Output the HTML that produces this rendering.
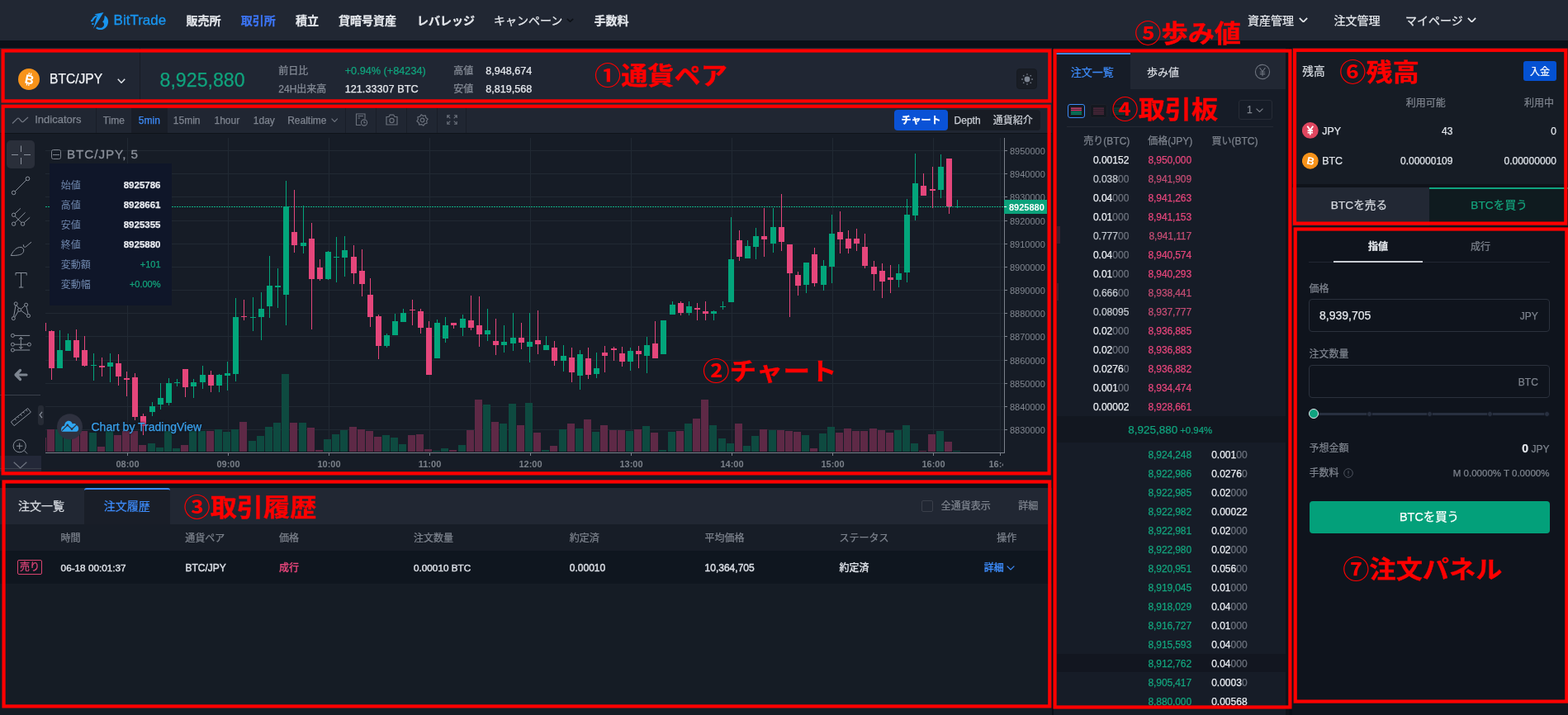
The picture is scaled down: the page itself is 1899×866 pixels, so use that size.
<!DOCTYPE html>
<html lang="ja"><head><meta charset="utf-8"><title>BitTrade 取引所</title>
<style>
*{margin:0;padding:0;box-sizing:border-box}
html,body{width:1899px;height:866px;overflow:hidden;background:#0a1018;font-family:"Liberation Sans","Noto Sans CJK JP",sans-serif;}
.a{position:absolute}
.t{position:absolute;white-space:nowrap;-webkit-text-stroke:0.25px currentColor}
.rb{position:absolute;border:4px solid #ff0000;z-index:50}
.lab{position:absolute;white-space:nowrap;color:#ff0000;font-weight:700;-webkit-text-stroke:0.4px #ff0000;font-size:31px;line-height:36px;z-index:60;font-family:"Liberation Sans","Noto Sans CJK JP",sans-serif;letter-spacing:0}
</style></head>
<body>
<div class="a" style="left:0px;top:0px;width:1899px;height:49px;background:#212733;"></div><svg class="a" style="left:105px;top:8px" width="30" height="32" viewBox="105 8 30 32">
<polygon points="125.5,15 114.5,17.3 117.7,19 113.1,34.8" fill="#1894ee"/>
<path d="M116.9 19.4 Q112.8 21.3 111.7 25.2" fill="none" stroke="#1894ee" stroke-width="2"/>
<rect x="110" y="24.3" width="2.4" height="1.9" fill="#1894ee"/>
<circle cx="112.4" cy="28.9" r="1.2" fill="#1894ee"/>
<path d="M126.8 18.7 C129.7 20.2 131.3 23.3 131.1 26.6 C130.9 30.6 128.6 34 125 35.4 C122 36.6 118.6 36.2 116 34.2 L117.4 32.4 C119.2 33.6 121.4 34 123.4 33.4 C125.4 32.6 126.4 30.8 126 28.8 C125.7 27.6 124.8 26.9 124 26.6 C125.4 25.4 126.2 23.8 126.4 21.8 C126.5 20.6 126.6 19.6 126.8 18.7 Z" fill="#1894ee"/>
</svg><div class="t " style="top:15.2px;line-height:20px;font-size:17px;color:#1894ee;left:137.6px;-webkit-text-stroke:0.35px #1894ee">BitTrade</div><div class="t " style="top:15.0px;line-height:20px;font-size:14px;color:#e4e7ec;font-weight:700;left:225.5px;">販売所</div><div class="t " style="top:15.0px;line-height:20px;font-size:14px;color:#3d76f7;font-weight:700;left:291.8px;">取引所</div><div class="t " style="top:15.0px;line-height:20px;font-size:14px;color:#e4e7ec;font-weight:700;left:358.0px;">積立</div><div class="t " style="top:15.0px;line-height:20px;font-size:14px;color:#e4e7ec;font-weight:700;left:410.0px;">貸暗号資産</div><div class="t " style="top:15.0px;line-height:20px;font-size:14px;color:#e4e7ec;font-weight:700;left:505.0px;">レバレッジ</div><div class="t " style="top:15.0px;line-height:20px;font-size:14px;color:#e4e7ec;left:598.0px;">キャンペーン</div><div class="t " style="top:15.0px;line-height:20px;font-size:14px;color:#e4e7ec;font-weight:700;left:719.5px;">手数料</div><div class="t " style="top:15.0px;line-height:20px;font-size:14px;color:#e4e7ec;left:1511.0px;">資産管理</div><div class="t " style="top:15.0px;line-height:20px;font-size:14px;color:#e4e7ec;left:1615.5px;">注文管理</div><div class="t " style="top:15.0px;line-height:20px;font-size:14px;color:#e4e7ec;left:1702.0px;">マイページ</div><svg class="a" style="left:685.5px;top:21.5px" width="9" height="5" viewBox="0 0 9 5"><polyline points="0.8,0.8 4.5,4.2 8.2,0.8" fill="none" stroke="#0d1117" stroke-width="1.6"/></svg><svg class="a" style="left:1572.5px;top:20.5px" width="11" height="6.5" viewBox="0 0 11 6.5"><polyline points="0.85,0.85 5.5,5.65 10.15,0.85" fill="none" stroke="#e4e7ec" stroke-width="1.7"/></svg><svg class="a" style="left:1776.5px;top:20.5px" width="11" height="6.5" viewBox="0 0 11 6.5"><polyline points="0.85,0.85 5.5,5.65 10.15,0.85" fill="none" stroke="#e4e7ec" stroke-width="1.7"/></svg><div class="a" style="left:0px;top:58px;width:1274px;height:67px;background:#202633;"></div><div class="a" style="left:169px;top:58px;width:1px;height:67px;background:#181c24;"></div><svg class="a" style="left:22px;top:83px" width="26" height="26" viewBox="0 0 26 26"><circle cx="13" cy="13" r="13" fill="#f7931a"/>
<text x="13.6" y="18.3" font-size="15" font-weight="700" fill="#fff" text-anchor="middle" font-family="Liberation Sans,sans-serif" transform="rotate(12 13 13)">B</text>
<rect x="11.2" y="5.2" width="1.3" height="2.6" fill="#fff" transform="rotate(12 13 13)"/><rect x="13.6" y="5.2" width="1.3" height="2.6" fill="#fff" transform="rotate(12 13 13)"/>
<rect x="11.2" y="18.2" width="1.3" height="2.6" fill="#fff" transform="rotate(12 13 13)"/><rect x="13.6" y="18.2" width="1.3" height="2.6" fill="#fff" transform="rotate(12 13 13)"/>
</svg><div class="t " style="top:86.3px;line-height:20px;font-size:15.6px;color:#f2f4f7;left:60.0px;">BTC/JPY</div><svg class="a" style="left:141.5px;top:94.5px" width="10" height="6" viewBox="0 0 10 6"><polyline points="0.75,0.75 5.0,5.25 9.25,0.75" fill="none" stroke="#dfe3e9" stroke-width="1.5"/></svg><div class="t " style="top:82.8px;line-height:28px;font-size:23.2px;color:#10a37d;left:193.5px;">8,925,880</div><div class="t " style="top:77.5px;line-height:16px;font-size:12px;color:#858b96;left:337.3px;">前日比</div><div class="t " style="top:99.6px;line-height:16px;font-size:12px;color:#858b96;left:337.3px;">24H出来高</div><div class="t " style="top:77.5px;line-height:16px;font-size:12.7px;color:#10a37d;left:417.7px;">+0.94% (+84234)</div><div class="t " style="top:99.6px;line-height:16px;font-size:12.7px;color:#e6e9ee;left:417.7px;">121.33307 BTC</div><div class="t " style="top:77.5px;line-height:16px;font-size:12px;color:#858b96;left:549.3px;">高値</div><div class="t " style="top:99.6px;line-height:16px;font-size:12px;color:#858b96;left:549.3px;">安値</div><div class="t " style="top:77.5px;line-height:16px;font-size:12.6px;color:#e6e9ee;left:588.2px;">8,948,674</div><div class="t " style="top:99.6px;line-height:16px;font-size:12.6px;color:#e6e9ee;left:588.2px;">8,819,568</div><div class="a" style="left:1231px;top:83px;width:25px;height:25px;border-radius:4px;background:#191d25;border:1px solid #161a21"></div><svg class="a" style="left:1236px;top:88px" width="16" height="16" viewBox="0 0 16 16"><circle cx="8" cy="8" r="3.4" fill="#7d8592"/><line x1="13.20" y1="8.00" x2="14.80" y2="8.00" stroke="#7d8592" stroke-width="1.3"/><line x1="11.68" y1="11.68" x2="12.81" y2="12.81" stroke="#7d8592" stroke-width="1.3"/><line x1="8.00" y1="13.20" x2="8.00" y2="14.80" stroke="#7d8592" stroke-width="1.3"/><line x1="4.32" y1="11.68" x2="3.19" y2="12.81" stroke="#7d8592" stroke-width="1.3"/><line x1="2.80" y1="8.00" x2="1.20" y2="8.00" stroke="#7d8592" stroke-width="1.3"/><line x1="4.32" y1="4.32" x2="3.19" y2="3.19" stroke="#7d8592" stroke-width="1.3"/><line x1="8.00" y1="2.80" x2="8.00" y2="1.20" stroke="#7d8592" stroke-width="1.3"/><line x1="11.68" y1="4.32" x2="12.81" y2="3.19" stroke="#7d8592" stroke-width="1.3"/></svg><div class="a" style="left:0px;top:125px;width:1274px;height:36px;background:#202632;"></div><div class="a" style="left:0px;top:160.5px;width:1274px;height:1.5px;background:#0e131a;"></div><div class="a" style="left:0px;top:162px;width:1274px;height:420px;background:#161c26;"></div><div class="a" style="left:116px;top:131px;width:1px;height:30px;background:#191e28;"></div><div class="a" style="left:159px;top:131px;width:1px;height:30px;background:#191e28;"></div><div class="a" style="left:202px;top:131px;width:1px;height:30px;background:#191e28;"></div><div class="a" style="left:418px;top:131px;width:1px;height:30px;background:#191e28;"></div><div class="a" style="left:455px;top:131px;width:1px;height:30px;background:#191e28;"></div><div class="a" style="left:492px;top:131px;width:1px;height:30px;background:#191e28;"></div><div class="a" style="left:529px;top:131px;width:1px;height:30px;background:#191e28;"></div><div class="a" style="left:564px;top:131px;width:1px;height:30px;background:#191e28;"></div><div class="a" style="left:159px;top:131px;width:43px;height:30px;background:#191e28;"></div><svg class="a" style="left:14px;top:141px" width="21" height="10" viewBox="0 0 21 10"><path d="M1 8.5 L7 2.6 Q8 1.7 9 2.6 L12.3 6.2 Q13.3 7.1 14.3 6.2 L20 1" fill="none" stroke="#6f7581" stroke-width="1.3"/></svg><div class="t " style="top:137.0px;line-height:16px;font-size:13px;color:#7e848f;left:42.2px;">Indicators</div><div class="t " style="top:138.0px;line-height:16px;font-size:12px;color:#7e848f;left:124.8px;">Time</div><div class="t " style="top:138.0px;line-height:16px;font-size:12px;color:#3d8af7;left:167.8px;">5min</div><div class="t " style="top:138.0px;line-height:16px;font-size:12px;color:#7e848f;left:209.8px;">15min</div><div class="t " style="top:138.0px;line-height:16px;font-size:12px;color:#7e848f;left:259.5px;">1hour</div><div class="t " style="top:138.0px;line-height:16px;font-size:12px;color:#7e848f;left:306.8px;">1day</div><div class="t " style="top:138.0px;line-height:16px;font-size:12px;color:#7e848f;left:348.2px;">Realtime</div><svg class="a" style="left:400.5px;top:143px" width="8.5" height="5" viewBox="0 0 8.5 5"><polyline points="0.6,0.6 4.25,4.4 7.9,0.6" fill="none" stroke="#6f7581" stroke-width="1.2"/></svg><svg class="a" style="left:430px;top:137px" width="16" height="16" viewBox="0 0 16 16" fill="none" stroke="#6b717c" stroke-width="1.1">
<path d="M7 14.5 H1.5 V1 H12 V7"/><line x1="3.5" y1="3.5" x2="10" y2="3.5"/><line x1="3.5" y1="6" x2="6" y2="6"/>
<circle cx="11" cy="11.5" r="3.6"/><path d="M11 9.6 V11.6 H12.6"/></svg><svg class="a" style="left:467px;top:138px" width="15" height="14" viewBox="0 0 15 14" fill="none" stroke="#6b717c" stroke-width="1.2">
<path d="M1 3.5 H4 L5.3 1.2 H9.7 L11 3.5 H14 V13 H1 Z"/><circle cx="7.5" cy="8" r="2.6"/></svg><svg class="a" style="left:504px;top:137.5px" width="15" height="15" viewBox="0 0 15 15" fill="none" stroke="#6b717c" stroke-width="1.2"><polygon points="14.17,6.17 12.60,8.51 13.15,11.28 10.39,11.82 8.83,14.17 6.49,12.60 3.72,13.15 3.18,10.39 0.83,8.83 2.40,6.49 1.85,3.72 4.61,3.18 6.17,0.83 8.51,2.40 11.28,1.85 11.82,4.61" stroke-linejoin="round"/><circle cx="7.5" cy="7.5" r="2.3"/></svg><svg class="a" style="left:541px;top:139px" width="13" height="12" viewBox="0 0 13 12" fill="none" stroke="#6b717c" stroke-width="1.1">
<path d="M0.8 4 V0.8 H4 M0.8 0.8 L4.3 4.3 M9 0.8 H12.2 V4 M12.2 0.8 L8.7 4.3 M0.8 8 V11.2 H4 M0.8 11.2 L4.3 7.7 M12.2 8 V11.2 H9 M12.2 11.2 L8.7 7.7"/></svg><div class="a" style="left:1083px;top:132.5px;width:177px;height:25px;background:#181c24;border-radius:4px"></div><div class="a" style="left:1083px;top:132.5px;width:65px;height:25px;background:#0a52d6;border-radius:4px"></div><div class="t " style="top:138.0px;line-height:16px;font-size:12px;color:#ffffff;font-weight:700;left:965.5px;width:300px;text-align:center;">チャート</div><div class="t " style="top:138.0px;line-height:16px;font-size:12px;color:#c9cdd4;left:1155.6px;">Depth</div><div class="t " style="top:138.0px;line-height:16px;font-size:12px;color:#c9cdd4;left:1202.8px;">通貨紹介</div><svg class="a" style="left:0;top:0" width="1274" height="582" viewBox="0 0 1274 582"><defs><clipPath id="pc"><rect x="55" y="163" width="1161" height="385"/></clipPath></defs><line x1="55" y1="182.5" x2="1216" y2="182.5" stroke="#212933" stroke-width="1"/><line x1="55" y1="210.5" x2="1216" y2="210.5" stroke="#212933" stroke-width="1"/><line x1="55" y1="238.5" x2="1216" y2="238.5" stroke="#212933" stroke-width="1"/><line x1="55" y1="267.5" x2="1216" y2="267.5" stroke="#212933" stroke-width="1"/><line x1="55" y1="295.5" x2="1216" y2="295.5" stroke="#212933" stroke-width="1"/><line x1="55" y1="323.5" x2="1216" y2="323.5" stroke="#212933" stroke-width="1"/><line x1="55" y1="351.5" x2="1216" y2="351.5" stroke="#212933" stroke-width="1"/><line x1="55" y1="379.5" x2="1216" y2="379.5" stroke="#212933" stroke-width="1"/><line x1="55" y1="407.5" x2="1216" y2="407.5" stroke="#212933" stroke-width="1"/><line x1="55" y1="436.5" x2="1216" y2="436.5" stroke="#212933" stroke-width="1"/><line x1="55" y1="464.5" x2="1216" y2="464.5" stroke="#212933" stroke-width="1"/><line x1="55" y1="492.5" x2="1216" y2="492.5" stroke="#212933" stroke-width="1"/><line x1="55" y1="520.5" x2="1216" y2="520.5" stroke="#212933" stroke-width="1"/><line x1="154.5" y1="167" x2="154.5" y2="548" stroke="#212933" stroke-width="1"/><line x1="276.5" y1="167" x2="276.5" y2="548" stroke="#212933" stroke-width="1"/><line x1="398.5" y1="167" x2="398.5" y2="548" stroke="#212933" stroke-width="1"/><line x1="520.5" y1="167" x2="520.5" y2="548" stroke="#212933" stroke-width="1"/><line x1="642.5" y1="167" x2="642.5" y2="548" stroke="#212933" stroke-width="1"/><line x1="764.5" y1="167" x2="764.5" y2="548" stroke="#212933" stroke-width="1"/><line x1="886.5" y1="167" x2="886.5" y2="548" stroke="#212933" stroke-width="1"/><line x1="1008.5" y1="167" x2="1008.5" y2="548" stroke="#212933" stroke-width="1"/><line x1="1130.5" y1="167" x2="1130.5" y2="548" stroke="#212933" stroke-width="1"/><line x1="1211.5" y1="167" x2="1211.5" y2="548" stroke="#212933" stroke-width="1"/><g clip-path="url(#pc)"><line x1="55" y1="250.5" x2="1216" y2="250.5" stroke="#0fb084" stroke-width="1" stroke-dasharray="2 1"/><rect x="47" y="530" width="9" height="17" fill="#5e2946"/><rect x="57" y="520" width="9" height="27" fill="#5e2946"/><rect x="67" y="520" width="9" height="27" fill="#0e4a40"/><rect x="77" y="528" width="9" height="19" fill="#0e4a40"/><rect x="87" y="522" width="9" height="25" fill="#5e2946"/><rect x="97" y="522" width="9" height="25" fill="#5e2946"/><rect x="108" y="524" width="9" height="23" fill="#0e4a40"/><rect x="118" y="541" width="9" height="6" fill="#5e2946"/><rect x="128" y="522" width="9" height="25" fill="#0e4a40"/><rect x="138" y="527" width="9" height="20" fill="#5e2946"/><rect x="148" y="522" width="9" height="25" fill="#5e2946"/><rect x="158" y="522" width="9" height="25" fill="#5e2946"/><rect x="168" y="539" width="9" height="8" fill="#5e2946"/><rect x="179" y="537" width="9" height="10" fill="#0e4a40"/><rect x="189" y="542" width="9" height="5" fill="#0e4a40"/><rect x="199" y="522" width="9" height="25" fill="#0e4a40"/><rect x="209" y="543" width="9" height="4" fill="#0e4a40"/><rect x="219" y="539" width="9" height="8" fill="#5e2946"/><rect x="229" y="522" width="9" height="25" fill="#0e4a40"/><rect x="240" y="522" width="9" height="25" fill="#0e4a40"/><rect x="250" y="522" width="9" height="25" fill="#5e2946"/><rect x="260" y="520" width="9" height="27" fill="#0e4a40"/><rect x="270" y="523" width="9" height="24" fill="#0e4a40"/><rect x="280" y="520" width="9" height="27" fill="#0e4a40"/><rect x="290" y="511" width="9" height="36" fill="#5e2946"/><rect x="301" y="534" width="9" height="13" fill="#0e4a40"/><rect x="311" y="528" width="9" height="19" fill="#0e4a40"/><rect x="321" y="517" width="9" height="30" fill="#0e4a40"/><rect x="331" y="512" width="9" height="35" fill="#0e4a40"/><rect x="341" y="453" width="9" height="94" fill="#0e4a40"/><rect x="351" y="512" width="9" height="35" fill="#5e2946"/><rect x="362" y="512" width="9" height="35" fill="#0e4a40"/><rect x="372" y="518" width="9" height="29" fill="#5e2946"/><rect x="382" y="545" width="9" height="2" fill="#5e2946"/><rect x="392" y="532" width="9" height="15" fill="#0e4a40"/><rect x="402" y="526" width="9" height="21" fill="#0e4a40"/><rect x="412" y="521" width="9" height="26" fill="#0e4a40"/><rect x="423" y="517" width="9" height="30" fill="#5e2946"/><rect x="433" y="520" width="9" height="27" fill="#5e2946"/><rect x="443" y="522" width="9" height="25" fill="#5e2946"/><rect x="453" y="529" width="9" height="18" fill="#5e2946"/><rect x="463" y="527" width="9" height="20" fill="#0e4a40"/><rect x="473" y="530" width="9" height="17" fill="#0e4a40"/><rect x="483" y="538" width="9" height="9" fill="#0e4a40"/><rect x="494" y="527" width="9" height="20" fill="#5e2946"/><rect x="504" y="526" width="9" height="21" fill="#5e2946"/><rect x="514" y="544" width="9" height="3" fill="#5e2946"/><rect x="524" y="546" width="9" height="1" fill="#0e4a40"/><rect x="534" y="543" width="9" height="4" fill="#0e4a40"/><rect x="544" y="545" width="9" height="2" fill="#5e2946"/><rect x="555" y="539" width="9" height="8" fill="#0e4a40"/><rect x="565" y="521" width="9" height="26" fill="#5e2946"/><rect x="575" y="484" width="9" height="63" fill="#5e2946"/><rect x="585" y="490" width="9" height="57" fill="#0e4a40"/><rect x="595" y="511" width="9" height="36" fill="#5e2946"/><rect x="605" y="513" width="9" height="34" fill="#0e4a40"/><rect x="616" y="489" width="9" height="58" fill="#0e4a40"/><rect x="626" y="515" width="9" height="32" fill="#5e2946"/><rect x="636" y="488" width="9" height="59" fill="#0e4a40"/><rect x="646" y="524" width="9" height="23" fill="#5e2946"/><rect x="656" y="545" width="9" height="2" fill="#0e4a40"/><rect x="666" y="540" width="9" height="7" fill="#5e2946"/><rect x="677" y="520" width="9" height="27" fill="#0e4a40"/><rect x="687" y="513" width="9" height="34" fill="#5e2946"/><rect x="697" y="519" width="9" height="28" fill="#0e4a40"/><rect x="707" y="508" width="9" height="39" fill="#5e2946"/><rect x="717" y="523" width="9" height="24" fill="#0e4a40"/><rect x="727" y="515" width="9" height="32" fill="#5e2946"/><rect x="738" y="521" width="9" height="26" fill="#5e2946"/><rect x="748" y="521" width="9" height="26" fill="#5e2946"/><rect x="758" y="522" width="9" height="25" fill="#0e4a40"/><rect x="768" y="520" width="9" height="27" fill="#5e2946"/><rect x="778" y="516" width="9" height="31" fill="#0e4a40"/><rect x="788" y="524" width="9" height="23" fill="#5e2946"/><rect x="798" y="545" width="9" height="2" fill="#0e4a40"/><rect x="809" y="523" width="9" height="24" fill="#0e4a40"/><rect x="819" y="522" width="9" height="25" fill="#5e2946"/><rect x="829" y="513" width="9" height="34" fill="#0e4a40"/><rect x="839" y="507" width="9" height="40" fill="#5e2946"/><rect x="849" y="484" width="9" height="63" fill="#5e2946"/><rect x="859" y="515" width="9" height="32" fill="#0e4a40"/><rect x="870" y="531" width="9" height="16" fill="#0e4a40"/><rect x="880" y="537" width="9" height="10" fill="#0e4a40"/><rect x="890" y="513" width="9" height="34" fill="#5e2946"/><rect x="900" y="540" width="9" height="7" fill="#0e4a40"/><rect x="910" y="528" width="9" height="19" fill="#0e4a40"/><rect x="920" y="520" width="9" height="27" fill="#5e2946"/><rect x="931" y="521" width="9" height="26" fill="#0e4a40"/><rect x="941" y="521" width="9" height="26" fill="#5e2946"/><rect x="951" y="522" width="9" height="25" fill="#5e2946"/><rect x="961" y="523" width="9" height="24" fill="#5e2946"/><rect x="971" y="527" width="9" height="20" fill="#0e4a40"/><rect x="981" y="543" width="9" height="4" fill="#5e2946"/><rect x="992" y="525" width="9" height="22" fill="#0e4a40"/><rect x="1002" y="517" width="9" height="30" fill="#0e4a40"/><rect x="1012" y="524" width="9" height="23" fill="#5e2946"/><rect x="1022" y="519" width="9" height="28" fill="#5e2946"/><rect x="1032" y="522" width="9" height="25" fill="#5e2946"/><rect x="1042" y="522" width="9" height="25" fill="#5e2946"/><rect x="1053" y="519" width="9" height="28" fill="#5e2946"/><rect x="1063" y="521" width="9" height="26" fill="#5e2946"/><rect x="1073" y="524" width="9" height="23" fill="#5e2946"/><rect x="1083" y="521" width="9" height="26" fill="#0e4a40"/><rect x="1093" y="515" width="9" height="32" fill="#0e4a40"/><rect x="1103" y="537" width="9" height="10" fill="#0e4a40"/><rect x="1113" y="546" width="9" height="1" fill="#5e2946"/><rect x="1124" y="526" width="9" height="21" fill="#5e2946"/><rect x="1134" y="522" width="9" height="25" fill="#0e4a40"/><rect x="1144" y="535" width="9" height="12" fill="#5e2946"/><rect x="1154" y="546" width="9" height="1" fill="#0e4a40"/><rect x="52" y="391" width="1" height="10" fill="#e5467b"/><rect x="49" y="391" width="7" height="10" fill="#e5467b"/><rect x="62" y="400" width="1" height="60" fill="#e5467b"/><rect x="59" y="401" width="7" height="45" fill="#e5467b"/><rect x="72" y="400" width="1" height="46" fill="#03a57b"/><rect x="69" y="424" width="7" height="22" fill="#03a57b"/><rect x="82" y="404" width="1" height="21" fill="#03a57b"/><rect x="79" y="412" width="7" height="13" fill="#03a57b"/><rect x="92" y="399" width="1" height="38" fill="#e5467b"/><rect x="89" y="412" width="7" height="21" fill="#e5467b"/><rect x="102" y="407" width="1" height="37" fill="#e5467b"/><rect x="99" y="424" width="7" height="19" fill="#e5467b"/><rect x="113" y="428" width="1" height="33" fill="#03a57b"/><rect x="110" y="442" width="7" height="1" fill="#03a57b"/><rect x="123" y="433" width="1" height="23" fill="#e5467b"/><rect x="120" y="443" width="7" height="2" fill="#e5467b"/><rect x="133" y="428" width="1" height="35" fill="#03a57b"/><rect x="130" y="439" width="7" height="5" fill="#03a57b"/><rect x="143" y="429" width="1" height="38" fill="#e5467b"/><rect x="140" y="440" width="7" height="16" fill="#e5467b"/><rect x="153" y="450" width="1" height="30" fill="#e5467b"/><rect x="150" y="458" width="7" height="2" fill="#e5467b"/><rect x="163" y="452" width="1" height="57" fill="#e5467b"/><rect x="160" y="457" width="7" height="48" fill="#e5467b"/><rect x="173" y="501" width="1" height="26" fill="#e5467b"/><rect x="170" y="504" width="7" height="12" fill="#e5467b"/><rect x="184" y="487" width="1" height="17" fill="#03a57b"/><rect x="181" y="492" width="7" height="7" fill="#03a57b"/><rect x="194" y="464" width="1" height="32" fill="#03a57b"/><rect x="191" y="482" width="7" height="8" fill="#03a57b"/><rect x="204" y="458" width="1" height="33" fill="#03a57b"/><rect x="201" y="464" width="7" height="24" fill="#03a57b"/><rect x="214" y="459" width="1" height="9" fill="#03a57b"/><rect x="211" y="463" width="7" height="1" fill="#03a57b"/><rect x="224" y="447" width="1" height="34" fill="#e5467b"/><rect x="221" y="447" width="7" height="22" fill="#e5467b"/><rect x="234" y="459" width="1" height="23" fill="#03a57b"/><rect x="231" y="463" width="7" height="5" fill="#03a57b"/><rect x="245" y="443" width="1" height="28" fill="#03a57b"/><rect x="242" y="454" width="7" height="9" fill="#03a57b"/><rect x="255" y="449" width="1" height="26" fill="#e5467b"/><rect x="252" y="454" width="7" height="13" fill="#e5467b"/><rect x="265" y="453" width="1" height="22" fill="#03a57b"/><rect x="262" y="454" width="7" height="13" fill="#03a57b"/><rect x="275" y="438" width="1" height="35" fill="#03a57b"/><rect x="272" y="452" width="7" height="3" fill="#03a57b"/><rect x="285" y="361" width="1" height="101" fill="#03a57b"/><rect x="282" y="384" width="7" height="69" fill="#03a57b"/><rect x="295" y="363" width="1" height="25" fill="#e5467b"/><rect x="292" y="383" width="7" height="1" fill="#e5467b"/><rect x="306" y="360" width="1" height="41" fill="#03a57b"/><rect x="303" y="384" width="7" height="1" fill="#03a57b"/><rect x="316" y="354" width="1" height="58" fill="#03a57b"/><rect x="313" y="374" width="7" height="10" fill="#03a57b"/><rect x="326" y="310" width="1" height="75" fill="#03a57b"/><rect x="323" y="346" width="7" height="25" fill="#03a57b"/><rect x="336" y="325" width="1" height="48" fill="#03a57b"/><rect x="333" y="346" width="7" height="2" fill="#03a57b"/><rect x="346" y="219" width="1" height="175" fill="#03a57b"/><rect x="343" y="250" width="7" height="107" fill="#03a57b"/><rect x="356" y="230" width="1" height="76" fill="#e5467b"/><rect x="353" y="281" width="7" height="16" fill="#e5467b"/><rect x="367" y="249" width="1" height="58" fill="#03a57b"/><rect x="364" y="294" width="7" height="4" fill="#03a57b"/><rect x="377" y="270" width="1" height="129" fill="#e5467b"/><rect x="374" y="289" width="7" height="49" fill="#e5467b"/><rect x="387" y="314" width="1" height="26" fill="#e5467b"/><rect x="384" y="324" width="7" height="14" fill="#e5467b"/><rect x="397" y="304" width="1" height="35" fill="#03a57b"/><rect x="394" y="305" width="7" height="33" fill="#03a57b"/><rect x="407" y="287" width="1" height="55" fill="#03a57b"/><rect x="404" y="311" width="7" height="1" fill="#03a57b"/><rect x="417" y="286" width="1" height="49" fill="#03a57b"/><rect x="414" y="303" width="7" height="9" fill="#03a57b"/><rect x="428" y="297" width="1" height="47" fill="#e5467b"/><rect x="425" y="311" width="7" height="20" fill="#e5467b"/><rect x="438" y="302" width="1" height="57" fill="#e5467b"/><rect x="435" y="328" width="7" height="16" fill="#e5467b"/><rect x="448" y="337" width="1" height="59" fill="#e5467b"/><rect x="445" y="357" width="7" height="27" fill="#e5467b"/><rect x="458" y="381" width="1" height="54" fill="#e5467b"/><rect x="455" y="383" width="7" height="36" fill="#e5467b"/><rect x="468" y="404" width="1" height="17" fill="#03a57b"/><rect x="465" y="406" width="7" height="13" fill="#03a57b"/><rect x="478" y="380" width="1" height="26" fill="#03a57b"/><rect x="475" y="389" width="7" height="17" fill="#03a57b"/><rect x="488" y="374" width="1" height="16" fill="#03a57b"/><rect x="485" y="379" width="7" height="11" fill="#03a57b"/><rect x="499" y="363" width="1" height="31" fill="#e5467b"/><rect x="496" y="375" width="7" height="1" fill="#e5467b"/><rect x="509" y="374" width="1" height="30" fill="#e5467b"/><rect x="506" y="377" width="7" height="20" fill="#e5467b"/><rect x="519" y="389" width="1" height="65" fill="#e5467b"/><rect x="516" y="397" width="7" height="57" fill="#e5467b"/><rect x="529" y="387" width="1" height="47" fill="#03a57b"/><rect x="526" y="391" width="7" height="43" fill="#03a57b"/><rect x="539" y="384" width="1" height="31" fill="#03a57b"/><rect x="536" y="394" width="7" height="16" fill="#03a57b"/><rect x="549" y="391" width="1" height="7" fill="#e5467b"/><rect x="546" y="391" width="7" height="3" fill="#e5467b"/><rect x="560" y="381" width="1" height="26" fill="#03a57b"/><rect x="557" y="386" width="7" height="11" fill="#03a57b"/><rect x="570" y="358" width="1" height="42" fill="#e5467b"/><rect x="567" y="388" width="7" height="9" fill="#e5467b"/><rect x="580" y="359" width="1" height="61" fill="#e5467b"/><rect x="577" y="394" width="7" height="11" fill="#e5467b"/><rect x="590" y="374" width="1" height="39" fill="#03a57b"/><rect x="587" y="400" width="7" height="5" fill="#03a57b"/><rect x="600" y="386" width="1" height="44" fill="#e5467b"/><rect x="597" y="413" width="7" height="5" fill="#e5467b"/><rect x="610" y="394" width="1" height="33" fill="#03a57b"/><rect x="607" y="414" width="7" height="4" fill="#03a57b"/><rect x="621" y="379" width="1" height="46" fill="#03a57b"/><rect x="618" y="409" width="7" height="7" fill="#03a57b"/><rect x="631" y="391" width="1" height="32" fill="#e5467b"/><rect x="628" y="409" width="7" height="6" fill="#e5467b"/><rect x="641" y="379" width="1" height="60" fill="#03a57b"/><rect x="638" y="414" width="7" height="6" fill="#03a57b"/><rect x="651" y="376" width="1" height="53" fill="#e5467b"/><rect x="648" y="412" width="7" height="5" fill="#e5467b"/><rect x="661" y="407" width="1" height="17" fill="#03a57b"/><rect x="658" y="418" width="7" height="6" fill="#03a57b"/><rect x="671" y="413" width="1" height="30" fill="#e5467b"/><rect x="668" y="421" width="7" height="16" fill="#e5467b"/><rect x="682" y="418" width="1" height="32" fill="#03a57b"/><rect x="679" y="431" width="7" height="6" fill="#03a57b"/><rect x="692" y="421" width="1" height="42" fill="#e5467b"/><rect x="689" y="433" width="7" height="18" fill="#e5467b"/><rect x="702" y="424" width="1" height="48" fill="#03a57b"/><rect x="699" y="429" width="7" height="26" fill="#03a57b"/><rect x="712" y="421" width="1" height="38" fill="#e5467b"/><rect x="709" y="434" width="7" height="20" fill="#e5467b"/><rect x="722" y="427" width="1" height="31" fill="#03a57b"/><rect x="719" y="446" width="7" height="7" fill="#03a57b"/><rect x="732" y="419" width="1" height="32" fill="#e5467b"/><rect x="729" y="427" width="7" height="4" fill="#e5467b"/><rect x="743" y="420" width="1" height="17" fill="#e5467b"/><rect x="740" y="422" width="7" height="2" fill="#e5467b"/><rect x="753" y="420" width="1" height="24" fill="#e5467b"/><rect x="750" y="428" width="7" height="10" fill="#e5467b"/><rect x="763" y="421" width="1" height="28" fill="#03a57b"/><rect x="760" y="425" width="7" height="13" fill="#03a57b"/><rect x="773" y="419" width="1" height="27" fill="#e5467b"/><rect x="770" y="425" width="7" height="4" fill="#e5467b"/><rect x="783" y="408" width="1" height="44" fill="#03a57b"/><rect x="780" y="418" width="7" height="13" fill="#03a57b"/><rect x="793" y="389" width="1" height="45" fill="#e5467b"/><rect x="790" y="416" width="7" height="18" fill="#e5467b"/><rect x="803" y="388" width="1" height="41" fill="#03a57b"/><rect x="800" y="388" width="7" height="41" fill="#03a57b"/><rect x="814" y="365" width="1" height="16" fill="#03a57b"/><rect x="811" y="369" width="7" height="12" fill="#03a57b"/><rect x="824" y="365" width="1" height="17" fill="#e5467b"/><rect x="821" y="367" width="7" height="12" fill="#e5467b"/><rect x="834" y="365" width="1" height="17" fill="#03a57b"/><rect x="831" y="371" width="7" height="8" fill="#03a57b"/><rect x="844" y="367" width="1" height="21" fill="#e5467b"/><rect x="841" y="373" width="7" height="2" fill="#e5467b"/><rect x="854" y="365" width="1" height="23" fill="#e5467b"/><rect x="851" y="377" width="7" height="3" fill="#e5467b"/><rect x="864" y="376" width="1" height="12" fill="#03a57b"/><rect x="861" y="377" width="7" height="3" fill="#03a57b"/><rect x="875" y="365" width="1" height="10" fill="#03a57b"/><rect x="872" y="371" width="7" height="1" fill="#03a57b"/><rect x="885" y="263" width="1" height="103" fill="#03a57b"/><rect x="882" y="314" width="7" height="52" fill="#03a57b"/><rect x="895" y="279" width="1" height="37" fill="#e5467b"/><rect x="892" y="291" width="7" height="20" fill="#e5467b"/><rect x="905" y="291" width="1" height="22" fill="#03a57b"/><rect x="902" y="298" width="7" height="15" fill="#03a57b"/><rect x="915" y="276" width="1" height="38" fill="#03a57b"/><rect x="912" y="286" width="7" height="13" fill="#03a57b"/><rect x="925" y="252" width="1" height="59" fill="#e5467b"/><rect x="922" y="286" width="7" height="4" fill="#e5467b"/><rect x="936" y="252" width="1" height="54" fill="#03a57b"/><rect x="933" y="275" width="7" height="20" fill="#03a57b"/><rect x="946" y="235" width="1" height="69" fill="#e5467b"/><rect x="943" y="275" width="7" height="18" fill="#e5467b"/><rect x="956" y="296" width="1" height="88" fill="#e5467b"/><rect x="953" y="296" width="7" height="35" fill="#e5467b"/><rect x="966" y="329" width="1" height="29" fill="#e5467b"/><rect x="963" y="333" width="7" height="13" fill="#e5467b"/><rect x="976" y="318" width="1" height="37" fill="#03a57b"/><rect x="973" y="318" width="7" height="27" fill="#03a57b"/><rect x="986" y="300" width="1" height="47" fill="#e5467b"/><rect x="983" y="308" width="7" height="35" fill="#e5467b"/><rect x="997" y="315" width="1" height="37" fill="#03a57b"/><rect x="994" y="322" width="7" height="23" fill="#03a57b"/><rect x="1007" y="260" width="1" height="83" fill="#03a57b"/><rect x="1004" y="283" width="7" height="40" fill="#03a57b"/><rect x="1017" y="256" width="1" height="51" fill="#e5467b"/><rect x="1014" y="281" width="7" height="9" fill="#e5467b"/><rect x="1027" y="279" width="1" height="28" fill="#e5467b"/><rect x="1024" y="289" width="7" height="12" fill="#e5467b"/><rect x="1037" y="277" width="1" height="27" fill="#e5467b"/><rect x="1034" y="289" width="7" height="6" fill="#e5467b"/><rect x="1047" y="283" width="1" height="42" fill="#e5467b"/><rect x="1044" y="299" width="7" height="23" fill="#e5467b"/><rect x="1058" y="316" width="1" height="36" fill="#e5467b"/><rect x="1055" y="323" width="7" height="9" fill="#e5467b"/><rect x="1068" y="319" width="1" height="42" fill="#e5467b"/><rect x="1065" y="328" width="7" height="13" fill="#e5467b"/><rect x="1078" y="321" width="1" height="34" fill="#e5467b"/><rect x="1075" y="336" width="7" height="3" fill="#e5467b"/><rect x="1088" y="320" width="1" height="28" fill="#03a57b"/><rect x="1085" y="331" width="7" height="8" fill="#03a57b"/><rect x="1098" y="241" width="1" height="101" fill="#03a57b"/><rect x="1095" y="260" width="7" height="70" fill="#03a57b"/><rect x="1108" y="186" width="1" height="81" fill="#03a57b"/><rect x="1105" y="222" width="7" height="39" fill="#03a57b"/><rect x="1118" y="210" width="1" height="27" fill="#e5467b"/><rect x="1115" y="225" width="7" height="12" fill="#e5467b"/><rect x="1129" y="202" width="1" height="50" fill="#e5467b"/><rect x="1126" y="229" width="7" height="2" fill="#e5467b"/><rect x="1139" y="187" width="1" height="53" fill="#03a57b"/><rect x="1136" y="202" width="7" height="28" fill="#03a57b"/><rect x="1149" y="192" width="1" height="67" fill="#e5467b"/><rect x="1146" y="192" width="7" height="58" fill="#e5467b"/><rect x="1159" y="242" width="1" height="10" fill="#03a57b"/><rect x="1156" y="250" width="7" height="1" fill="#03a57b"/></g><line x1="55" y1="548.5" x2="1217" y2="548.5" stroke="#7b818b" stroke-width="1"/><line x1="1216.5" y1="167" x2="1216.5" y2="549" stroke="#7b818b" stroke-width="1"/><line x1="154.5" y1="549" x2="154.5" y2="552" stroke="#7b818b" stroke-width="1"/><text x="154.5" y="566" font-size="11" font-weight="700" fill="#7a8089" text-anchor="middle" font-family="Liberation Sans,sans-serif">08:00</text><line x1="276.5" y1="549" x2="276.5" y2="552" stroke="#7b818b" stroke-width="1"/><text x="276.5" y="566" font-size="11" font-weight="700" fill="#7a8089" text-anchor="middle" font-family="Liberation Sans,sans-serif">09:00</text><line x1="398.5" y1="549" x2="398.5" y2="552" stroke="#7b818b" stroke-width="1"/><text x="398.5" y="566" font-size="11" font-weight="700" fill="#7a8089" text-anchor="middle" font-family="Liberation Sans,sans-serif">10:00</text><line x1="520.5" y1="549" x2="520.5" y2="552" stroke="#7b818b" stroke-width="1"/><text x="520.5" y="566" font-size="11" font-weight="700" fill="#7a8089" text-anchor="middle" font-family="Liberation Sans,sans-serif">11:00</text><line x1="642.5" y1="549" x2="642.5" y2="552" stroke="#7b818b" stroke-width="1"/><text x="642.5" y="566" font-size="11" font-weight="700" fill="#7a8089" text-anchor="middle" font-family="Liberation Sans,sans-serif">12:00</text><line x1="764.5" y1="549" x2="764.5" y2="552" stroke="#7b818b" stroke-width="1"/><text x="764.5" y="566" font-size="11" font-weight="700" fill="#7a8089" text-anchor="middle" font-family="Liberation Sans,sans-serif">13:00</text><line x1="886.5" y1="549" x2="886.5" y2="552" stroke="#7b818b" stroke-width="1"/><text x="886.5" y="566" font-size="11" font-weight="700" fill="#7a8089" text-anchor="middle" font-family="Liberation Sans,sans-serif">14:00</text><line x1="1008.5" y1="549" x2="1008.5" y2="552" stroke="#7b818b" stroke-width="1"/><text x="1008.5" y="566" font-size="11" font-weight="700" fill="#7a8089" text-anchor="middle" font-family="Liberation Sans,sans-serif">15:00</text><line x1="1130.5" y1="549" x2="1130.5" y2="552" stroke="#7b818b" stroke-width="1"/><text x="1130.5" y="566" font-size="11" font-weight="700" fill="#7a8089" text-anchor="middle" font-family="Liberation Sans,sans-serif">16:00</text><line x1="1211.5" y1="549" x2="1211.5" y2="552" stroke="#7b818b" stroke-width="1"/><svg x="0" y="0" width="1215" height="582" overflow="hidden"><text x="1197.5" y="566" font-size="11" font-weight="700" fill="#7a8089" font-family="Liberation Sans,sans-serif">16:40</text></svg><line x1="1216" y1="182.5" x2="1220" y2="182.5" stroke="#7b818b" stroke-width="1"/><text x="1223" y="187.0" font-size="11" fill="#80868f" font-family="Liberation Sans,sans-serif">8950000</text><line x1="1216" y1="210.5" x2="1220" y2="210.5" stroke="#7b818b" stroke-width="1"/><text x="1223" y="215.2" font-size="11" fill="#80868f" font-family="Liberation Sans,sans-serif">8940000</text><line x1="1216" y1="238.5" x2="1220" y2="238.5" stroke="#7b818b" stroke-width="1"/><text x="1223" y="243.3" font-size="11" fill="#80868f" font-family="Liberation Sans,sans-serif">8930000</text><line x1="1216" y1="267.5" x2="1220" y2="267.5" stroke="#7b818b" stroke-width="1"/><text x="1223" y="271.5" font-size="11" fill="#80868f" font-family="Liberation Sans,sans-serif">8920000</text><line x1="1216" y1="295.5" x2="1220" y2="295.5" stroke="#7b818b" stroke-width="1"/><text x="1223" y="299.7" font-size="11" fill="#80868f" font-family="Liberation Sans,sans-serif">8910000</text><line x1="1216" y1="323.5" x2="1220" y2="323.5" stroke="#7b818b" stroke-width="1"/><text x="1223" y="327.9" font-size="11" fill="#80868f" font-family="Liberation Sans,sans-serif">8900000</text><line x1="1216" y1="351.5" x2="1220" y2="351.5" stroke="#7b818b" stroke-width="1"/><text x="1223" y="356.0" font-size="11" fill="#80868f" font-family="Liberation Sans,sans-serif">8890000</text><line x1="1216" y1="379.5" x2="1220" y2="379.5" stroke="#7b818b" stroke-width="1"/><text x="1223" y="384.2" font-size="11" fill="#80868f" font-family="Liberation Sans,sans-serif">8880000</text><line x1="1216" y1="407.5" x2="1220" y2="407.5" stroke="#7b818b" stroke-width="1"/><text x="1223" y="412.4" font-size="11" fill="#80868f" font-family="Liberation Sans,sans-serif">8870000</text><line x1="1216" y1="436.5" x2="1220" y2="436.5" stroke="#7b818b" stroke-width="1"/><text x="1223" y="440.5" font-size="11" fill="#80868f" font-family="Liberation Sans,sans-serif">8860000</text><line x1="1216" y1="464.5" x2="1220" y2="464.5" stroke="#7b818b" stroke-width="1"/><text x="1223" y="468.7" font-size="11" fill="#80868f" font-family="Liberation Sans,sans-serif">8850000</text><line x1="1216" y1="492.5" x2="1220" y2="492.5" stroke="#7b818b" stroke-width="1"/><text x="1223" y="496.9" font-size="11" fill="#80868f" font-family="Liberation Sans,sans-serif">8840000</text><line x1="1216" y1="520.5" x2="1220" y2="520.5" stroke="#7b818b" stroke-width="1"/><text x="1223" y="525.0" font-size="11" fill="#80868f" font-family="Liberation Sans,sans-serif">8830000</text><rect x="1216" y="242" width="52" height="17" fill="#0ba27b"/><line x1="1216" y1="250.5" x2="1219" y2="250.5" stroke="#fff" stroke-width="1"/><text x="1222" y="254.5" font-size="11" font-weight="700" fill="#ffffff" font-family="Liberation Sans,sans-serif">8925880</text></svg><div class="a" style="left:8px;top:170px;width:34px;height:34px;background:#2a2f3a;border-radius:5px"></div><svg class="a" style="left:0;top:160px" width="55" height="420" viewBox="0 160 55 420" fill="none" stroke="#8a919c" stroke-width="1">
<path d="M14 187.5 H22 M29 187.5 H37 M25.5 176.5 V184 M25.5 191 V199"/>
<circle cx="16.6" cy="233.4" r="2.3"/><circle cx="33.5" cy="216.4" r="2.3"/><path d="M18.3 231.7 L31.8 218.1"/>
<circle cx="16.6" cy="260.3" r="2.2"/><circle cx="16.6" cy="271.2" r="2.2"/><circle cx="27.6" cy="271.2" r="2.2"/>
<path d="M18.2 258.7 L24.9 252.4 M18.2 261.9 L26 269.6 M18.2 269.6 L30.6 257.3 M29.2 269.6 L36.2 263.3"/>
<path d="M13.2 309.5 C15.5 305 18.5 300.5 23.5 299.5 C27.5 298.8 29.8 302 28.2 305.5 C26.5 308.8 21.5 309.5 13.2 309.5 Z"/>
<path d="M28.3 296.3 Q28 299.6 30.6 299.4 L38 293.2"/>
<path d="M19 333.5 V330.5 H32.2 V333.5 M25.6 330.5 V348 M22.9 348 H28.3"/>
<circle cx="19.2" cy="367.9" r="2"/><circle cx="31.6" cy="369.2" r="2"/><circle cx="23.6" cy="375.3" r="2"/><circle cx="34.5" cy="382.5" r="2"/><circle cx="16.3" cy="385.6" r="2"/>
<path d="M16.6 383.6 L19 369.9 M19.9 369.8 L22.9 373.4 M25.4 374.4 L29.9 370.3 M31.9 371.2 L34.1 380.5 M17.8 384.2 L22.2 376.8 M25.4 376.2 L32.6 381.5"/>
<circle cx="15.4" cy="406.4" r="2"/><circle cx="15.4" cy="417.2" r="2"/><circle cx="15.4" cy="424" r="2"/><circle cx="35.4" cy="417.2" r="2"/>
<path d="M17.4 406.4 H36.2 M17.4 417.2 H33.4 M17.4 424 H36.2 M25.3 408.5 V422.4 M23 411 L25.3 408.5 L27.6 411 M23 420 L25.3 422.4 L27.6 420"/>
<path d="M14 478.5 H49" stroke="#3a404b"/>
<path d="M13.3 511 L33.6 494.5 L37.4 499.2 L17.1 515.7 Z M18 507.2 L19.6 509.2 M21.4 504.4 L22.6 506 M24.8 501.7 L26.4 503.7 M28.2 498.9 L29.4 500.5 M31.6 496.2 L33.2 498.2"/>
<circle cx="23.7" cy="540.2" r="7.6"/><path d="M29.2 545.5 L33 549.5 M20 540.2 H27.4 M23.7 536.5 V543.9"/>
</svg><svg class="a" style="left:16px;top:446px" width="18" height="16" viewBox="0 0 18 16"><path d="M16 8 H4 M8.5 2.5 L3 8 L8.5 13.5" fill="none" stroke="#7d8590" stroke-width="3.2" stroke-linecap="round" stroke-linejoin="round"/></svg><div class="a" style="left:0px;top:478px;width:14px;height:1px;background:#3a404b;"></div><div class="a" style="left:46px;top:491px;width:7px;height:24px;background:#262b35;border-radius:3px"></div><svg class="a" style="left:47px;top:498px" width="5" height="9" viewBox="0 0 5 9"><path d="M4 0.8 L1.2 4.5 L4 8.2" fill="none" stroke="#8a919c" stroke-width="1.2"/></svg><div class="a" style="left:0px;top:552px;width:50px;height:19px;background:#232838;"></div><div class="a" style="left:0px;top:567px;width:50px;height:1px;background:#3a404b;"></div><svg class="a" style="left:16px;top:559px" width="17" height="9" viewBox="0 0 17 9"><path d="M0.7 0.7 L8.5 8 L16.3 0.7" fill="none" stroke="#6f7581" stroke-width="1.2"/></svg><div class="a" style="left:61.5px;top:181px;width:12.5px;height:12px;border:1.3px solid #7c828c;border-radius:2.5px"></div><div class="a" style="left:64px;top:186.5px;width:7.5px;height:1.3px;background:#7c828c;"></div><div class="t " style="top:176.6px;line-height:20px;font-size:15.2px;color:#8b919b;left:81.0px;letter-spacing:0.95px;-webkit-text-stroke:0.3px #8b919b">BTC/JPY, 5</div><div class="a" style="left:60px;top:198px;width:148px;height:172px;background:#0f1629;"></div><div class="t " style="top:216.9px;line-height:16px;font-size:12px;color:#6f87ad;left:73.8px;-webkit-text-stroke:0">始値</div><div class="t " style="top:215.7px;line-height:16px;font-size:11.5px;color:#e8ebf0;font-weight:700;right:1704.5px;text-align:right;">8925786</div><div class="t " style="top:241.0px;line-height:16px;font-size:12px;color:#6f87ad;left:73.8px;-webkit-text-stroke:0">高値</div><div class="t " style="top:239.8px;line-height:16px;font-size:11.5px;color:#e8ebf0;font-weight:700;right:1704.5px;text-align:right;">8928661</div><div class="t " style="top:265.1px;line-height:16px;font-size:12px;color:#6f87ad;left:73.8px;-webkit-text-stroke:0">安値</div><div class="t " style="top:263.9px;line-height:16px;font-size:11.5px;color:#e8ebf0;font-weight:700;right:1704.5px;text-align:right;">8925355</div><div class="t " style="top:289.2px;line-height:16px;font-size:12px;color:#6f87ad;left:73.8px;-webkit-text-stroke:0">終値</div><div class="t " style="top:288.0px;line-height:16px;font-size:11.5px;color:#e8ebf0;font-weight:700;right:1704.5px;text-align:right;">8925880</div><div class="t " style="top:313.3px;line-height:16px;font-size:12px;color:#6f87ad;left:73.8px;-webkit-text-stroke:0">変動額</div><div class="t " style="top:312.1px;line-height:16px;font-size:11px;color:#13a47c;right:1704.5px;text-align:right;">+101</div><div class="t " style="top:337.4px;line-height:16px;font-size:12px;color:#6f87ad;left:73.8px;-webkit-text-stroke:0">変動幅</div><div class="t " style="top:336.2px;line-height:16px;font-size:11px;color:#13a47c;right:1704.5px;text-align:right;">+0.00%</div><svg class="a" style="left:69px;top:501px" width="32" height="32" viewBox="0 0 32 32"><circle cx="15.5" cy="15.8" r="15.5" fill="#2e313f"/>
<path d="M6.5 21.7 C5 21.7 4.9 19.5 5.2 18 C5.5 16 7 14.6 9 14.8 C9.3 11 11.5 8.8 14 8.8 C16.6 8.8 18.2 10.5 18.8 12.5 C20.5 11.5 22.8 12 23.6 14 C25.5 14.5 26.2 16.5 26.1 18.5 C26 20.5 25 21.7 23.5 21.7 Z" fill="#2fa6f2"/>
<path d="M6 20.6 L12.7 13.8 L18 18.8 L24.5 12.6" fill="none" stroke="#2e313f" stroke-width="1.3"/><circle cx="12.7" cy="13.9" r="1.3" fill="#2e313f"/><circle cx="18" cy="18.8" r="1.3" fill="#2e313f"/></svg><div class="t " style="top:507.5px;line-height:18px;font-size:14px;color:#39a0ea;left:110.5px;letter-spacing:0px;-webkit-text-stroke:0.25px #39a0ea;text-shadow:0 0 2px #111522,0 0 3px #111522">Chart by TradingView</div><div class="a" style="left:0px;top:586px;width:1274px;height:280px;background:#151c25;"></div><div class="a" style="left:0px;top:586px;width:1274px;height:5px;background:#0b1018;"></div><div class="a" style="left:0px;top:591px;width:1274px;height:44px;background:#212733;"></div><div class="a" style="left:102px;top:591px;width:104px;height:44px;background:#191e28;border-radius:3px 3px 0 0;border-top:2px solid #3d8af7"></div><div class="t " style="top:603.2px;line-height:20px;font-size:14px;color:#d5d9df;left:22.0px;">注文一覧</div><div class="t " style="top:603.2px;line-height:20px;font-size:14px;color:#3d8af7;left:125.7px;">注文履歴</div><div class="a" style="left:1116px;top:606px;width:14px;height:14px;border:1px solid #3a3f4a;border-radius:2px"></div><div class="t " style="top:605.2px;line-height:16px;font-size:12px;color:#7f858f;left:1139.8px;">全通貨表示</div><div class="t " style="top:605.2px;line-height:16px;font-size:12px;color:#7f858f;left:1233.2px;">詳細</div><div class="a" style="left:0px;top:635px;width:1274px;height:32px;background:#171d27;"></div><div class="t " style="top:643.7px;line-height:16px;font-size:12px;color:#7d838d;left:73.6px;">時間</div><div class="t " style="top:643.7px;line-height:16px;font-size:12px;color:#7d838d;left:224.3px;">通貨ペア</div><div class="t " style="top:643.7px;line-height:16px;font-size:12px;color:#7d838d;left:338.0px;">価格</div><div class="t " style="top:643.7px;line-height:16px;font-size:12px;color:#7d838d;left:501.0px;">注文数量</div><div class="t " style="top:643.7px;line-height:16px;font-size:12px;color:#7d838d;left:689.8px;">約定済</div><div class="t " style="top:643.7px;line-height:16px;font-size:12px;color:#7d838d;left:853.6px;">平均価格</div><div class="t " style="top:643.7px;line-height:16px;font-size:12px;color:#7d838d;left:1016.4px;">ステータス</div><div class="t " style="top:643.7px;line-height:16px;font-size:12px;color:#7d838d;left:1207.2px;">操作</div><div class="a" style="left:0px;top:667px;width:1274px;height:40px;background:#0f161f;"></div><div class="a" style="left:21px;top:678px;width:30px;height:18px;border:1.3px solid #d9446f;border-radius:2px"></div><div class="t " style="top:679.2px;line-height:16px;font-size:12px;color:#e5467b;left:24.0px;">売り</div><div class="t " style="top:679.6px;line-height:16px;font-size:11.75px;color:#dadee5;font-weight:500;left:73.6px;-webkit-text-stroke:0.45px #dadee5">06-18 00:01:37</div><div class="t " style="top:679.6px;line-height:16px;font-size:12px;color:#dadee5;font-weight:500;left:224.5px;-webkit-text-stroke:0.45px #dadee5">BTC/JPY</div><div class="t " style="top:679.6px;line-height:16px;font-size:12px;color:#e5467b;font-weight:500;left:338.0px;">成行</div><div class="t " style="top:679.6px;line-height:16px;font-size:11.75px;color:#dadee5;font-weight:500;left:501.0px;-webkit-text-stroke:0.45px #dadee5">0.00010 BTC</div><div class="t " style="top:679.6px;line-height:16px;font-size:12px;color:#dadee5;font-weight:500;left:689.8px;-webkit-text-stroke:0.45px #dadee5">0.00010</div><div class="t " style="top:679.6px;line-height:16px;font-size:12px;color:#dadee5;font-weight:500;left:853.6px;-webkit-text-stroke:0.45px #dadee5">10,364,705</div><div class="t " style="top:679.6px;line-height:16px;font-size:12px;color:#dadee5;font-weight:500;left:1016.4px;">約定済</div><div class="t " style="top:679.6px;line-height:16px;font-size:12px;color:#3d8af7;font-weight:500;left:1191.7px;">詳細</div><svg class="a" style="left:1218.5px;top:685px" width="10" height="5.5" viewBox="0 0 10 5.5"><polyline points="0.65,0.65 5.0,4.85 9.35,0.65" fill="none" stroke="#3d8af7" stroke-width="1.3"/></svg><div class="a" style="left:1276px;top:58px;width:285px;height:808px;background:#161c27;"></div><div class="a" style="left:1557px;top:58px;width:4px;height:808px;background:#0f131a;"></div><div class="a" style="left:1369px;top:64px;width:188px;height:44px;background:#212733;"></div><div class="a" style="left:1279px;top:64px;width:90px;height:2px;background:#3d8af7;"></div><div class="t " style="top:79.3px;line-height:18px;font-size:13px;color:#3d8af7;left:1296.8px;">注文一覧</div><div class="t " style="top:79.3px;line-height:18px;font-size:13px;color:#d5d9df;left:1389.0px;">歩み値</div><svg class="a" style="left:1519px;top:77px" width="20" height="20" viewBox="0 0 20 20"><circle cx="10" cy="10" r="8.6" fill="none" stroke="#6b717c" stroke-width="1.1"/><path d="M6.6 5.2 L10 9.6 L13.4 5.2 M10 9.6 V15.2 M6.8 10.2 H13.2 M6.8 12.6 H13.2" fill="none" stroke="#6b717c" stroke-width="1.1"/></svg><div class="a" style="left:1293px;top:126px;width:21px;height:17px;border-radius:3px;background:#14181f;border:1.5px solid #3d8af7"></div><svg class="a" style="left:1297px;top:130px" width="13" height="9" viewBox="0 0 13 9"><rect x="0" y="0.5" width="13" height="1.3" fill="#e5467b"/><rect x="0" y="2.8" width="13" height="1.3" fill="#e5467b"/><rect x="0" y="5.1" width="13" height="1.3" fill="#03a57b"/><rect x="0" y="7.4" width="13" height="1.3" fill="#03a57b"/></svg><div class="a" style="left:1319.5px;top:126px;width:21px;height:17px;border-radius:3px;background:#14181f;border:1px solid #1c2029"></div><svg class="a" style="left:1323.5px;top:130px" width="13" height="9" viewBox="0 0 13 9"><rect x="0" y="0.5" width="13" height="1.3" fill="#5a2b41"/><rect x="0" y="2.8" width="13" height="1.3" fill="#5a2b41"/><rect x="0" y="5.1" width="13" height="1.3" fill="#5a2b41"/><rect x="0" y="7.4" width="13" height="1.3" fill="#5a2b41"/></svg><div class="a" style="left:1344.5px;top:126px;width:21px;height:17px;border-radius:3px;background:#14181f;border:1px solid #1c2029"></div><svg class="a" style="left:1348.5px;top:130px" width="13" height="9" viewBox="0 0 13 9"><rect x="0" y="0.5" width="13" height="1.3" fill="#0f4a3d"/><rect x="0" y="2.8" width="13" height="1.3" fill="#0f4a3d"/><rect x="0" y="5.1" width="13" height="1.3" fill="#0f4a3d"/><rect x="0" y="7.4" width="13" height="1.3" fill="#0f4a3d"/></svg><div class="a" style="left:1499.5px;top:121px;width:41px;height:24px;border:1px solid #272c36;border-radius:3px"></div><div class="t " style="top:125.3px;line-height:16px;font-size:12px;color:#7d838d;left:1510.0px;">1</div><svg class="a" style="left:1520.5px;top:131px" width="9" height="5" viewBox="0 0 9 5"><polyline points="0.55,0.55 4.5,4.45 8.45,0.55" fill="none" stroke="#7d838d" stroke-width="1.1"/></svg><div class="a" style="left:1292px;top:153px;width:250px;height:1px;background:#252a34;"></div><div class="t " style="top:163.0px;line-height:16px;font-size:12px;color:#7d838d;left:1312.3px;">売り(BTC)</div><div class="t " style="top:163.0px;line-height:16px;font-size:12px;color:#7d838d;left:1390.3px;">価格(JPY)</div><div class="t " style="top:163.0px;line-height:16px;font-size:12px;color:#7d838d;left:1467.4px;">買い(BTC)</div><div class="t " style="top:185.5px;line-height:16px;font-size:12px;color:#e9ecf1;font-weight:500;right:531.7px;text-align:right;">0.00152<span style="color:#6c727d;font-weight:400"></span></div><div class="t " style="top:185.5px;line-height:16px;font-size:12px;color:#e5467b;right:456.0px;text-align:right;letter-spacing:-0.1px">8,950,000</div><div class="t " style="top:208.5px;line-height:16px;font-size:12px;color:#c3c8cf;font-weight:500;right:531.7px;text-align:right;">0.038<span style="color:#6c727d;font-weight:400">00</span></div><div class="t " style="top:208.5px;line-height:16px;font-size:12px;color:#c54d74;right:456.0px;text-align:right;letter-spacing:-0.1px">8,941,909</div><div class="t " style="top:231.5px;line-height:16px;font-size:12px;color:#e9ecf1;font-weight:500;right:531.7px;text-align:right;">0.04<span style="color:#6c727d;font-weight:400">000</span></div><div class="t " style="top:231.5px;line-height:16px;font-size:12px;color:#e5467b;right:456.0px;text-align:right;letter-spacing:-0.1px">8,941,263</div><div class="t " style="top:254.5px;line-height:16px;font-size:12px;color:#e9ecf1;font-weight:500;right:531.7px;text-align:right;">0.01<span style="color:#6c727d;font-weight:400">000</span></div><div class="t " style="top:254.5px;line-height:16px;font-size:12px;color:#e5467b;right:456.0px;text-align:right;letter-spacing:-0.1px">8,941,153</div><div class="t " style="top:277.5px;line-height:16px;font-size:12px;color:#c3c8cf;font-weight:500;right:531.7px;text-align:right;">0.777<span style="color:#6c727d;font-weight:400">00</span></div><div class="t " style="top:277.5px;line-height:16px;font-size:12px;color:#c54d74;right:456.0px;text-align:right;letter-spacing:-0.1px">8,941,117</div><div class="t " style="top:300.5px;line-height:16px;font-size:12px;color:#e9ecf1;font-weight:500;right:531.7px;text-align:right;">0.04<span style="color:#6c727d;font-weight:400">000</span></div><div class="t " style="top:300.5px;line-height:16px;font-size:12px;color:#e5467b;right:456.0px;text-align:right;letter-spacing:-0.1px">8,940,574</div><div class="t " style="top:323.5px;line-height:16px;font-size:12px;color:#e9ecf1;font-weight:500;right:531.7px;text-align:right;">0.01<span style="color:#6c727d;font-weight:400">000</span></div><div class="t " style="top:323.5px;line-height:16px;font-size:12px;color:#e5467b;right:456.0px;text-align:right;letter-spacing:-0.1px">8,940,293</div><div class="t " style="top:346.5px;line-height:16px;font-size:12px;color:#c3c8cf;font-weight:500;right:531.7px;text-align:right;">0.666<span style="color:#6c727d;font-weight:400">00</span></div><div class="t " style="top:346.5px;line-height:16px;font-size:12px;color:#c54d74;right:456.0px;text-align:right;letter-spacing:-0.1px">8,938,441</div><div class="t " style="top:369.5px;line-height:16px;font-size:12px;color:#c3c8cf;font-weight:500;right:531.7px;text-align:right;">0.08095<span style="color:#6c727d;font-weight:400"></span></div><div class="t " style="top:369.5px;line-height:16px;font-size:12px;color:#c54d74;right:456.0px;text-align:right;letter-spacing:-0.1px">8,937,777</div><div class="t " style="top:392.5px;line-height:16px;font-size:12px;color:#e9ecf1;font-weight:500;right:531.7px;text-align:right;">0.02<span style="color:#6c727d;font-weight:400">000</span></div><div class="t " style="top:392.5px;line-height:16px;font-size:12px;color:#e5467b;right:456.0px;text-align:right;letter-spacing:-0.1px">8,936,885</div><div class="t " style="top:415.5px;line-height:16px;font-size:12px;color:#e9ecf1;font-weight:500;right:531.7px;text-align:right;">0.02<span style="color:#6c727d;font-weight:400">000</span></div><div class="t " style="top:415.5px;line-height:16px;font-size:12px;color:#e5467b;right:456.0px;text-align:right;letter-spacing:-0.1px">8,936,883</div><div class="t " style="top:438.5px;line-height:16px;font-size:12px;color:#e9ecf1;font-weight:500;right:531.7px;text-align:right;">0.0276<span style="color:#6c727d;font-weight:400">0</span></div><div class="t " style="top:438.5px;line-height:16px;font-size:12px;color:#e5467b;right:456.0px;text-align:right;letter-spacing:-0.1px">8,936,882</div><div class="t " style="top:461.5px;line-height:16px;font-size:12px;color:#e9ecf1;font-weight:500;right:531.7px;text-align:right;">0.001<span style="color:#6c727d;font-weight:400">00</span></div><div class="t " style="top:461.5px;line-height:16px;font-size:12px;color:#e5467b;right:456.0px;text-align:right;letter-spacing:-0.1px">8,934,474</div><div class="t " style="top:484.5px;line-height:16px;font-size:12px;color:#e9ecf1;font-weight:500;right:531.7px;text-align:right;">0.00002<span style="color:#6c727d;font-weight:400"></span></div><div class="t " style="top:484.5px;line-height:16px;font-size:12px;color:#e5467b;right:456.0px;text-align:right;letter-spacing:-0.1px">8,928,661</div><div class="a" style="left:1280px;top:274px;width:4px;height:21px;background:#3a2130;"></div><div class="a" style="left:1280px;top:343px;width:2px;height:21px;background:#3a2130;"></div><div class="a" style="left:1280px;top:504px;width:277px;height:32px;background:#121720;"></div><div class="t " style="top:512.2px;line-height:18px;font-size:13.5px;color:#10a37d;left:1366.2px;">8,925,880</div><div class="t " style="top:512.2px;line-height:18px;font-size:11.4px;color:#10a37d;left:1429.2px;">+0.94%</div><div class="a" style="left:1280px;top:792px;width:277px;height:22px;background:#121620;"></div><div class="t " style="top:542.6px;line-height:16px;font-size:12px;color:#14a47d;right:456.0px;text-align:right;letter-spacing:-0.1px">8,924,248</div><div class="t " style="top:542.6px;line-height:16px;font-size:12px;color:#e9ecf1;font-weight:500;left:1467.2px;">0.001<span style="color:#6c727d;font-weight:400">00</span></div><div class="t " style="top:565.6px;line-height:16px;font-size:12px;color:#14a47d;right:456.0px;text-align:right;letter-spacing:-0.1px">8,922,986</div><div class="t " style="top:565.6px;line-height:16px;font-size:12px;color:#e9ecf1;font-weight:500;left:1467.2px;">0.0276<span style="color:#6c727d;font-weight:400">0</span></div><div class="t " style="top:588.6px;line-height:16px;font-size:12px;color:#14a47d;right:456.0px;text-align:right;letter-spacing:-0.1px">8,922,985</div><div class="t " style="top:588.6px;line-height:16px;font-size:12px;color:#e9ecf1;font-weight:500;left:1467.2px;">0.02<span style="color:#6c727d;font-weight:400">000</span></div><div class="t " style="top:611.6px;line-height:16px;font-size:12px;color:#14a47d;right:456.0px;text-align:right;letter-spacing:-0.1px">8,922,982</div><div class="t " style="top:611.6px;line-height:16px;font-size:12px;color:#e9ecf1;font-weight:500;left:1467.2px;">0.00022<span style="color:#6c727d;font-weight:400"></span></div><div class="t " style="top:634.6px;line-height:16px;font-size:12px;color:#14a47d;right:456.0px;text-align:right;letter-spacing:-0.1px">8,922,981</div><div class="t " style="top:634.6px;line-height:16px;font-size:12px;color:#e9ecf1;font-weight:500;left:1467.2px;">0.02<span style="color:#6c727d;font-weight:400">000</span></div><div class="t " style="top:657.6px;line-height:16px;font-size:12px;color:#14a47d;right:456.0px;text-align:right;letter-spacing:-0.1px">8,922,980</div><div class="t " style="top:657.6px;line-height:16px;font-size:12px;color:#e9ecf1;font-weight:500;left:1467.2px;">0.02<span style="color:#6c727d;font-weight:400">000</span></div><div class="t " style="top:680.6px;line-height:16px;font-size:12px;color:#14a47d;right:456.0px;text-align:right;letter-spacing:-0.1px">8,920,951</div><div class="t " style="top:680.6px;line-height:16px;font-size:12px;color:#e9ecf1;font-weight:500;left:1467.2px;">0.056<span style="color:#6c727d;font-weight:400">00</span></div><div class="t " style="top:703.6px;line-height:16px;font-size:12px;color:#14a47d;right:456.0px;text-align:right;letter-spacing:-0.1px">8,919,045</div><div class="t " style="top:703.6px;line-height:16px;font-size:12px;color:#e9ecf1;font-weight:500;left:1467.2px;">0.01<span style="color:#6c727d;font-weight:400">000</span></div><div class="t " style="top:726.6px;line-height:16px;font-size:12px;color:#14a47d;right:456.0px;text-align:right;letter-spacing:-0.1px">8,918,029</div><div class="t " style="top:726.6px;line-height:16px;font-size:12px;color:#e9ecf1;font-weight:500;left:1467.2px;">0.04<span style="color:#6c727d;font-weight:400">000</span></div><div class="t " style="top:749.6px;line-height:16px;font-size:12px;color:#14a47d;right:456.0px;text-align:right;letter-spacing:-0.1px">8,916,727</div><div class="t " style="top:749.6px;line-height:16px;font-size:12px;color:#e9ecf1;font-weight:500;left:1467.2px;">0.01<span style="color:#6c727d;font-weight:400">000</span></div><div class="t " style="top:772.6px;line-height:16px;font-size:12px;color:#14a47d;right:456.0px;text-align:right;letter-spacing:-0.1px">8,915,593</div><div class="t " style="top:772.6px;line-height:16px;font-size:12px;color:#e9ecf1;font-weight:500;left:1467.2px;">0.04<span style="color:#6c727d;font-weight:400">000</span></div><div class="t " style="top:795.6px;line-height:16px;font-size:12px;color:#14a47d;right:456.0px;text-align:right;letter-spacing:-0.1px">8,912,762</div><div class="t " style="top:795.6px;line-height:16px;font-size:12px;color:#e9ecf1;font-weight:500;left:1467.2px;">0.04<span style="color:#6c727d;font-weight:400">000</span></div><div class="t " style="top:818.6px;line-height:16px;font-size:12px;color:#14a47d;right:456.0px;text-align:right;letter-spacing:-0.1px">8,905,417</div><div class="t " style="top:818.6px;line-height:16px;font-size:12px;color:#e9ecf1;font-weight:500;left:1467.2px;">0.0003<span style="color:#6c727d;font-weight:400">0</span></div><div class="t " style="top:841.6px;line-height:16px;font-size:12px;color:#14a47d;right:456.0px;text-align:right;letter-spacing:-0.1px">8,880,000</div><div class="t " style="top:841.6px;line-height:16px;font-size:12px;color:#e9ecf1;font-weight:500;left:1467.2px;">0.00568<span style="color:#6c727d;font-weight:400"></span></div><div class="a" style="left:1565px;top:58px;width:334px;height:216px;background:#161c25;"></div><div class="t " style="top:77.5px;line-height:18px;font-size:13.6px;color:#d5d9df;left:1577.3px;">残高</div><div class="a" style="left:1845px;top:74px;width:40px;height:23.5px;background:#0451d2;border-radius:3px"></div><div class="t " style="top:77.7px;line-height:18px;font-size:12px;color:#ffffff;left:1715.0px;width:300px;text-align:center;">入金</div><div class="t " style="top:116.6px;line-height:16px;font-size:12px;color:#7d838d;left:1702.7px;">利用可能</div><div class="t " style="top:116.6px;line-height:16px;font-size:12px;color:#7d838d;left:1846.0px;">利用中</div><svg class="a" style="left:1577px;top:148px" width="20" height="20" viewBox="0 0 20 20"><circle cx="9.8" cy="9.9" r="9.9" fill="#e0465f"/><path d="M6.3 4.8 L9.8 9.6 L13.3 4.8 M9.8 9.6 V15.4 M6.6 10.2 H13 M6.6 12.6 H13" fill="none" stroke="#fff" stroke-width="1.8"/></svg><svg class="a" style="left:1577px;top:184.5px" width="20" height="20" viewBox="0 0 20 20"><circle cx="9.8" cy="9.8" r="9.9" fill="#f7931a"/>
<text x="10.3" y="14.3" font-size="12.5" font-weight="700" fill="#fff" text-anchor="middle" font-family="Liberation Sans,sans-serif" transform="rotate(12 10 10)">B</text></svg><div class="t " style="top:150.8px;line-height:16px;font-size:12.4px;color:#dfe3e9;left:1601.2px;">JPY</div><div class="t " style="top:186.5px;line-height:16px;font-size:12.4px;color:#dfe3e9;left:1601.2px;">BTC</div><div class="t " style="top:150.8px;line-height:16px;font-size:12px;color:#dfe3e9;right:139.6px;text-align:right;">43</div><div class="t " style="top:150.8px;line-height:16px;font-size:12px;color:#dfe3e9;right:14.1px;text-align:right;">0</div><div class="t " style="top:186.5px;line-height:16px;font-size:12px;color:#dfe3e9;right:139.6px;text-align:right;">0.00000109</div><div class="t " style="top:186.5px;line-height:16px;font-size:12px;color:#dfe3e9;right:14.1px;text-align:right;">0.00000000</div><div class="a" style="left:1565px;top:223px;width:334px;height:4px;background:#0f131a;"></div><div class="a" style="left:1565px;top:227px;width:166px;height:46px;background:#222834;"></div><div class="a" style="left:1731px;top:227px;width:168px;height:46px;background:#0f1b1f;"></div><div class="a" style="left:1731px;top:227px;width:168px;height:2px;background:#0fa37f;"></div><div class="t " style="top:240.2px;line-height:18px;font-size:13.7px;color:#d5d9df;left:1496.0px;width:300px;text-align:center;">BTCを売る</div><div class="t " style="top:240.2px;line-height:18px;font-size:13.7px;color:#14a47d;left:1665.6px;width:300px;text-align:center;">BTCを買う</div><div class="a" style="left:1565px;top:275px;width:334px;height:591px;background:#0f141d;"></div><div class="t " style="top:290.2px;line-height:18px;font-size:12px;color:#e3e6eb;font-weight:700;left:1519.0px;width:300px;text-align:center;">指値</div><div class="t " style="top:290.2px;line-height:18px;font-size:12px;color:#7d838d;left:1643.0px;width:300px;text-align:center;">成行</div><div class="a" style="left:1585px;top:316.5px;width:292px;height:1px;background:#222733;"></div><div class="a" style="left:1615px;top:316px;width:108px;height:2px;background:#c9cdd4;"></div><div class="t " style="top:341.5px;line-height:16px;font-size:12px;color:#7d838d;left:1585.4px;">価格</div><div class="a" style="left:1585px;top:362px;width:292px;height:40px;border:1px solid #2b313d;border-radius:4px"></div><div class="t " style="top:373.0px;line-height:18px;font-size:14px;color:#e3e6eb;left:1598.0px;">8,939,705</div><div class="t " style="top:374.5px;line-height:16px;font-size:12px;color:#7d838d;right:36.2px;text-align:right;">JPY</div><div class="t " style="top:421.4px;line-height:16px;font-size:12px;color:#7d838d;left:1585.4px;">注文数量</div><div class="a" style="left:1585px;top:442px;width:292px;height:40px;border:1px solid #2b313d;border-radius:4px"></div><div class="t " style="top:454.6px;line-height:16px;font-size:12px;color:#7d838d;right:36.2px;text-align:right;">BTC</div><div class="a" style="left:1591px;top:499.5px;width:283px;height:3px;background:#283040;"></div><div class="a" style="left:1654.7px;top:497.5px;width:7px;height:7px;border-radius:50%;background:#283040;border:1.5px solid #111620"></div><div class="a" style="left:1727.7px;top:497.5px;width:7px;height:7px;border-radius:50%;background:#283040;border:1.5px solid #111620"></div><div class="a" style="left:1800.5px;top:497.5px;width:7px;height:7px;border-radius:50%;background:#283040;border:1.5px solid #111620"></div><div class="a" style="left:1869.8px;top:497.5px;width:7px;height:7px;border-radius:50%;background:#283040;border:1.5px solid #111620"></div><div class="a" style="left:1585px;top:495px;width:12px;height:12px;border-radius:50%;background:#0fa37f;border:1.5px solid #e6e9ee"></div><div class="t " style="top:535.0px;line-height:16px;font-size:12px;color:#7d838d;left:1585.5px;">予想金額</div><div class="t " style="top:534.0px;line-height:18px;font-size:12px;color:#7d838d;right:22.6px;text-align:right;"><b style="font-size:14px;color:#e3e6eb">0</b> JPY</div><div class="t " style="top:565.0px;line-height:16px;font-size:12px;color:#7d838d;left:1585.5px;">手数料</div><svg class="a" style="left:1627px;top:567px" width="12" height="12" viewBox="0 0 12 12"><circle cx="6" cy="6" r="5.3" fill="none" stroke="#4d535e" stroke-width="1"/><path d="M6 3.2 V6.8 M6 8 V8.9" stroke="#4d535e" stroke-width="1.1"/></svg><div class="t " style="top:565.0px;line-height:16px;font-size:11.5px;color:#7d838d;right:22.6px;text-align:right;">M 0.0000% T 0.0000%</div><div class="a" style="left:1585.5px;top:606.5px;width:291px;height:39px;background:#03a07a;border-radius:4px"></div><div class="t " style="top:616.0px;line-height:20px;font-size:14.4px;color:#ffffff;left:1581.0px;width:300px;text-align:center;">BTCを買う</div><svg class="a" style="left:0;top:0;z-index:50" width="1899" height="866" viewBox="0 0 1899 866"><rect x="3.6" y="61.45" width="1267.75" height="60.95" fill="none" stroke="#ff0000" stroke-width="4.2"/><rect x="3.65" y="128.7" width="1266.95" height="444.7" fill="none" stroke="#ff0000" stroke-width="4.2"/><rect x="4.55" y="583.5" width="1266.75" height="271.95" fill="none" stroke="#ff0000" stroke-width="4.2"/><rect x="1277.55" y="61.5" width="284.85" height="795" fill="none" stroke="#ff0000" stroke-width="4.2"/><rect x="1568" y="60.8" width="328.3" height="209.8" fill="none" stroke="#ff0000" stroke-width="4.2"/><rect x="1568.7" y="277.5" width="328.65" height="572.1" fill="none" stroke="#ff0000" stroke-width="4.2"/></svg><div class="lab" style="left:720px;top:73.6px;font-size:32.2px;transform:scaleY(0.91);transform-origin:0 50%"><span style="-webkit-text-stroke:0">①</span>通貨ペア</div><div class="lab" style="left:851px;top:431.9px;font-size:32.6px;transform:scaleY(0.91);transform-origin:0 50%"><span style="-webkit-text-stroke:0">②</span>チャート</div><div class="lab" style="left:222.5px;top:597px;font-size:32.2px;transform:scaleY(0.91);transform-origin:0 50%"><span style="-webkit-text-stroke:0">③</span>取引履歴</div><div class="lab" style="left:1346.5px;top:115.4px;font-size:32.2px;transform:scaleY(0.91);transform-origin:0 50%"><span style="-webkit-text-stroke:0">④</span>取引板</div><div class="lab" style="left:1374.3px;top:22.6px;font-size:32.2px;transform:scaleY(0.91);transform-origin:0 50%"><span style="-webkit-text-stroke:0">⑤</span>歩み値</div><div class="lab" style="left:1622.3px;top:69.5px;font-size:32.2px;transform:scaleY(0.91);transform-origin:0 50%"><span style="-webkit-text-stroke:0">⑥</span>残高</div><div class="lab" style="left:1626.3px;top:671.7px;font-size:32.2px;transform:scaleY(0.91);transform-origin:0 50%"><span style="-webkit-text-stroke:0">⑦</span>注文パネル</div>
</body></html>
